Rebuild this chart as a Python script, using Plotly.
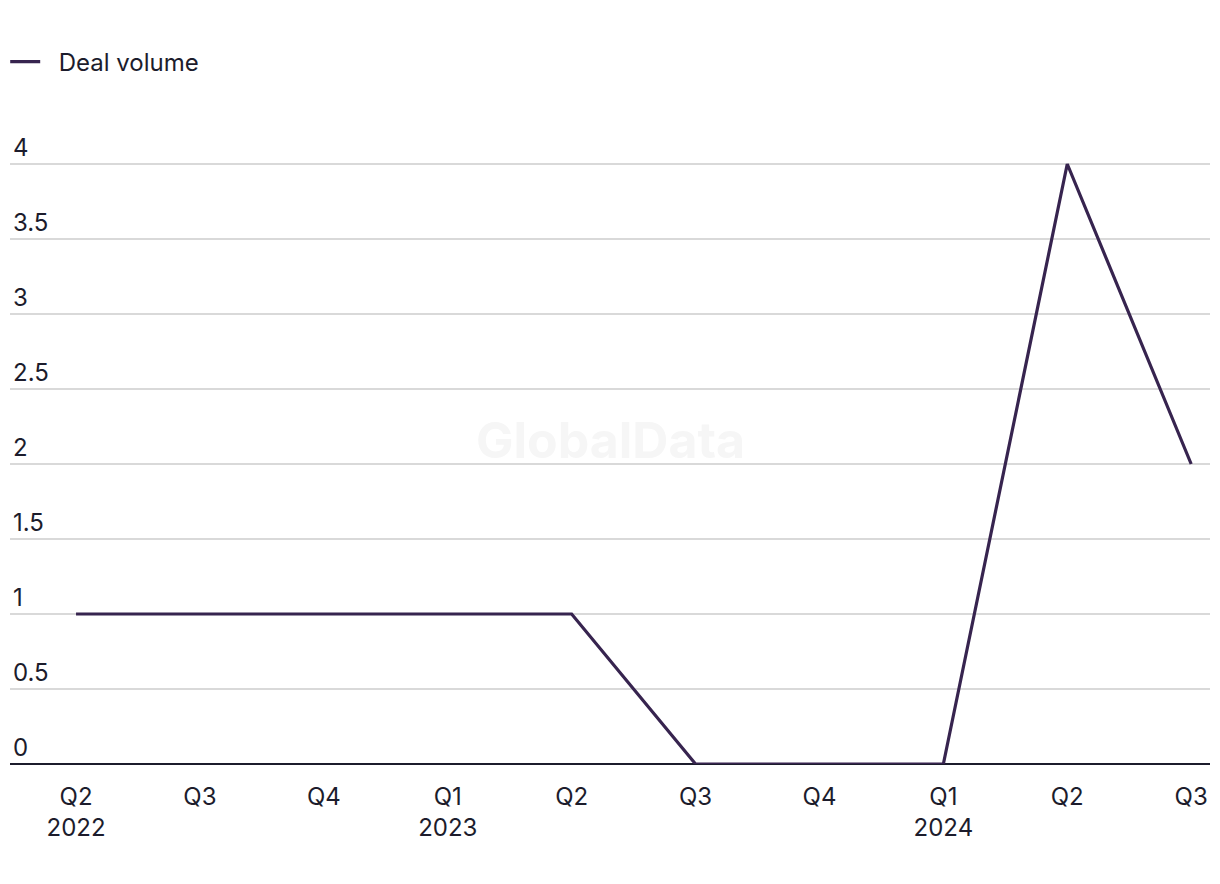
import plotly.graph_objects as go

quarters = ["Q2<br>2022", "Q3", "Q4", "Q1<br>2023", "Q2", "Q3", "Q4", "Q1<br>2024", "Q2", "Q3"]
deal_volume = [1, 1, 1, 1, 1, 0, 0, 0, 4, 2]
y_ticks = [0, 0.5, 1, 1.5, 2, 2.5, 3, 3.5, 4]
y_tick_text = ["0", "0.5", "1", "1.5", "2", "2.5", "3", "3.5", "4"]

x_idx = list(range(len(quarters)))

FONT = "Inter, Liberation Sans, Arial, sans-serif"
TEXT = "#1c1c2c"
LINE = "#37244f"

fig = go.Figure()
fig.add_trace(go.Scatter(
    x=x_idx, y=deal_volume, mode="lines", name="\u00a0\u00a0Deal volume",
    line=dict(color=LINE, width=3.2), hoverinfo="skip",
))

fig.update_layout(
    width=1220, height=884,
    margin=dict(l=10, r=10, t=104, b=120, autoexpand=False),
    paper_bgcolor="white", plot_bgcolor="white",
    font=dict(family=FONT, size=24, color=TEXT),
    showlegend=True,
    legend=dict(orientation="h", x=-0.004, xanchor="left", y=1.0636, yanchor="middle",
                font=dict(size=24, color=TEXT), itemwidth=30, bgcolor="rgba(0,0,0,0)"),
    xaxis=dict(
        tickmode="array", tickvals=x_idx, ticktext=quarters,
        range=[-0.533, 9.152], showgrid=False, zeroline=False, automargin=False,
        showline=False, ticks="", tickfont=dict(size=24, color=TEXT),
        ticklabelstandoff=16,
    ),
    yaxis=dict(
        tickmode="array", tickvals=y_ticks, ticktext=y_tick_text,
        range=[0, 4.4], showgrid=True, gridcolor="#d9d9d9", gridwidth=1.5,
        zeroline=True, zerolinecolor="#1c1c2c", zerolinewidth=2, automargin=False,
        ticklabelposition="inside top", tickfont=dict(size=24, color=TEXT),
        ticks="", showline=False,
    ),
    annotations=[dict(
        text="<b>GlobalData</b>", x=0.5, y=0.491, xref="paper", yref="paper",
        showarrow=False, font=dict(family=FONT, size=50, color="#f6f6f6"),
    )],
)

fig.write_html("out.html")
